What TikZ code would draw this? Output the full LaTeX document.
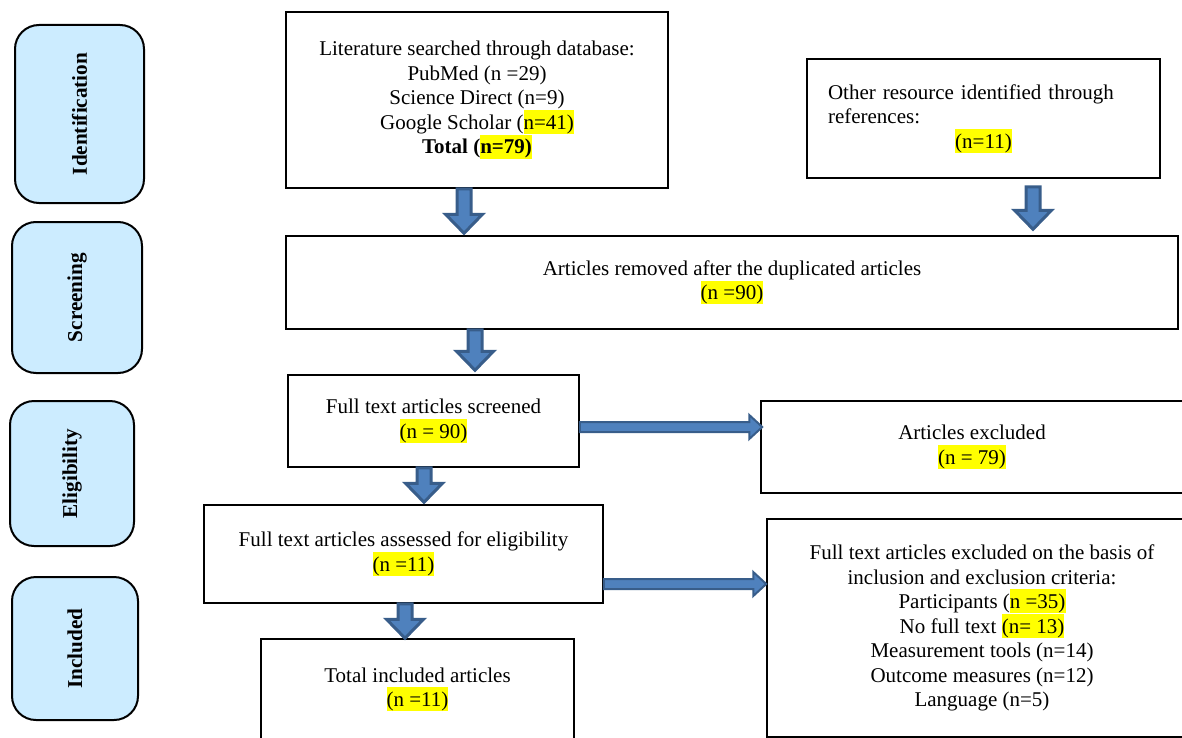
\documentclass[tikz,border=0pt]{standalone}
\usepackage{fontspec}
\setmainfont{Liberation Serif}
\usetikzlibrary{calc}

\definecolor{sidefill}{RGB}{204,236,255}
\definecolor{arrfill}{RGB}{79,129,189}
\definecolor{arrline}{RGB}{56,93,138}
\definecolor{hlyellow}{RGB}{255,255,0}
\newcommand{\hlt}[1]{{\setlength{\fboxsep}{0pt}\colorbox{hlyellow}{\rule[-0.22em]{0pt}{1.14em}#1}}}

\tikzset{
  box/.style={draw, line width=0.75pt, inner sep=0pt, align=center,
    font=\fontsize{10.5}{12.25}\selectfont},
  phase/.style={draw, line width=1pt, fill=sidefill, rounded corners=12pt,
    inner sep=0pt, rotate=90, font=\fontsize{10.6}{12}\selectfont\bfseries},
  blockarr/.style n args={4}{fill=arrfill, draw=arrline, line width=#4, line join=miter,
    to path={
      ($(\tikztostart)!#1!90:(\tikztotarget)$)
      -- ($($(\tikztotarget)!#3!(\tikztostart)$)!#1!-90:(\tikztostart)$)
      -- ($($(\tikztotarget)!#3!(\tikztostart)$)!#2!-90:(\tikztostart)$)
      -- (\tikztotarget)
      -- ($($(\tikztotarget)!#3!(\tikztostart)$)!#2!90:(\tikztostart)$)
      -- ($($(\tikztotarget)!#3!(\tikztostart)$)!#1!90:(\tikztostart)$)
      -- ($(\tikztostart)!#1!-90:(\tikztotarget)$)
      -- cycle}},
  vblock/.style={blockarr={3.5pt}{9.25pt}{9.5pt}{1.5pt}},
  hblock/.style={blockarr={2.5pt}{6pt}{6.5pt}{1pt}},
}

\begin{document}
\begin{tikzpicture}[x=0.5pt,y=-0.5pt]
\useasboundingbox (0,0) rectangle (1182,738);

% stage labels on the left
\foreach \name/\lbl/\cx/\cy/\len/\wid in {ident/Identification/79.5/114/89/64.5,
    screening/Screening/77/297.5/75.5/65, elig/Eligibility/72/473.5/72.5/62,
    incl/Included/75/648.5/71.5/63} {
  \node[phase, minimum width=\len pt, minimum height=\wid pt] (\name) at (\cx,\cy) {\lbl};
}

% flow boxes
\node[box, minimum width=191pt, minimum height=88pt] (lit) at (477,100)
  {Literature searched through database:\\ PubMed (n =29)\\ Science Direct (n=9)\\
   Google Scholar (\hlt{n=41)}\\ \textbf{Total (\hlt{n=79)}}};
\node[box, align=left, text width=155.5pt, minimum width=176.5pt, minimum height=59.5pt]
  (other) at (983.5,118.5)
  {Other resource identified through\\ references:\\
   \hbox to\hsize{\hfil\hlt{(n=11)}\hfil}};
\node[box, minimum width=446pt, minimum height=46.5pt] (rem) at (732,282.5)
  {Articles removed after the duplicated articles\\ \hlt{(n =90)}};
\node[box, minimum width=145.5pt, minimum height=46pt] (screen) at (433.5,421)
  {Full text articles screened\\ \hlt{(n = 90)}};
\node[box, minimum width=211pt, minimum height=46pt] (excl) at (972,447)
  {Articles excluded\\ \hlt{(n = 79)}};
\node[box, minimum width=199.5pt, minimum height=49pt] (assess) at (403.5,554)
  {Full text articles assessed for eligibility\\ \hlt{(n =11)}};
\node[box, minimum width=156.5pt, minimum height=50.5pt] (total) at (417.5,689.5)
  {Total included articles\\ \hlt{(n =11)}};
\node[box, minimum width=215pt, minimum height=109pt] (fexcl) at (982,628)
  {Full text articles excluded on the basis of\\ inclusion and exclusion criteria:\\
   Participants (\hlt{n =35)}\\ No full text \hlt{(n= 13)}\\ Measurement tools (n=14)\\
   Outcome measures (n=12)\\ Language (n=5)};

% block arrows
\draw[vblock] ([xshift=-6.5pt]lit.south) to ([xshift=-134pt,yshift=1pt]rem.north);
\draw[vblock] ([xshift=24.75pt,yshift=-4pt]other.south) to ([xshift=150.5pt,yshift=3pt]rem.north);
\draw[vblock] ([xshift=-128.5pt]rem.south) to ([xshift=20.75pt,yshift=2pt]screen.north);
\draw[vblock] ([xshift=-4.75pt]screen.south) to ([xshift=10.25pt,yshift=1pt]assess.north);
\draw[vblock] ([xshift=0.75pt]assess.south) to ([xshift=-6.25pt]total.north);
\draw[hblock] ([yshift=-3pt]screen.east) to ([xshift=1pt,yshift=10pt]excl.west);
\draw[hblock] ([yshift=-15pt]assess.east) to ([yshift=22pt]fexcl.west);
\end{tikzpicture}
\end{document}
